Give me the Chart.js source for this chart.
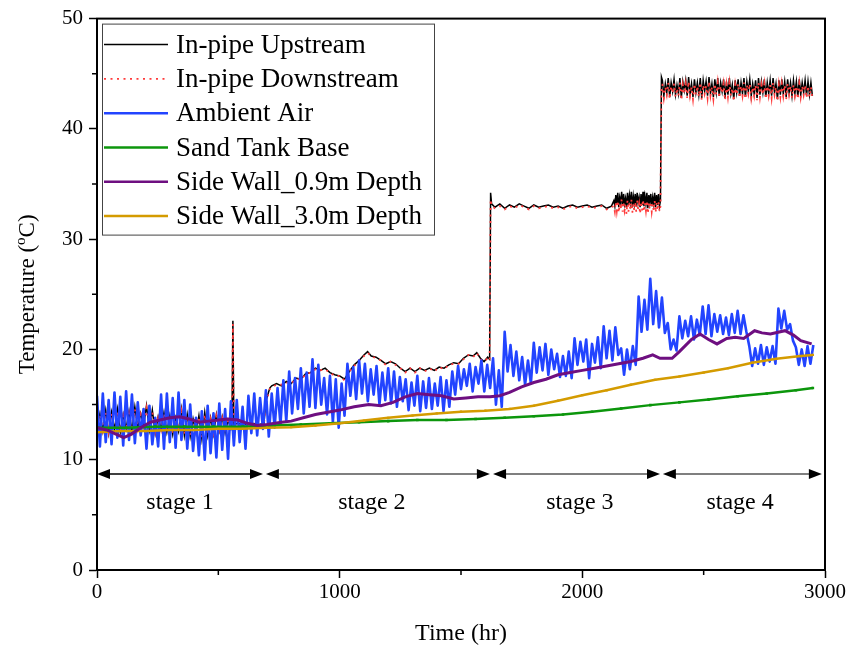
<!DOCTYPE html>
<html>
<head>
<meta charset="utf-8">
<script src="https://cdn.jsdelivr.net/npm/chart.js@4.4.1/dist/chart.umd.min.js"></script>
<style>
  html, body { margin: 0; padding: 0; background: #fff; }
  canvas { display: block; }
</style>
</head>
<body>
<canvas id="chart" width="848" height="652"></canvas>
<script>
// ── Data ────────────────────────────────────────────────────────────────────

// regular hour grid for evenly sampled records
const grid = (start, step, n) => Array.from({ length: n }, (_, i) => start + i * step);

// In-pipe temperatures, stage 1 (12 h samples from 0 h)
const upStage1 = [13.0,14.2,12.6,14.5,12.4,14.3,12.7,14.6,12.5,14.1,
    12.8,14.4,12.6,14.8,12.9,14.2,13.1,14.9,12.7,14.5,
    12.4,13.9,12.8,14.3,12.5,14.0,12.3,13.8,12.6,14.6,
    12.2,14.1,12.1,13.7,12.4,14.0,11.9,14.3,12.2,13.8,
    12.3,14.1,12.6,13.9,12.4,13.6,12.8];
const downStage1 = [12.9,14.0,12.7,14.3,12.5,14.2,12.6,14.4,12.6,14.0,
    12.7,14.2,12.7,14.6,12.8,14.1,13.0,14.7,12.8,14.3,
    12.5,13.8,12.7,14.2,12.6,13.9,12.4,13.7,12.7,14.4,
    12.3,14.0,12.2,13.6,12.5,13.9,12.0,14.1,12.3,13.7,
    12.4,14.0,12.7,13.8,12.5,13.5,12.9];

// spike and start of heating
const spikeHours = [556, 560, 564, 580, 610, 640, 670, 688, 696, 712];
const upSpike = [13.1, 22.6, 13.2, 13.3, 13.2, 13.3, 13.2, 13.3, 15.3, 16.5];
const downSpike = [13.0, 22.3, 13.1, 13.2, 13.1, 13.2, 13.1, 13.2, 15.1, 16.4];

// stage 2
const stage2Hours = [720,740,760,780,800,820,840,860,880,900,920,940,960,980,1000,1020,
    1040,1060,1080,1100,1115,1130,1150,1170,1190,1210,1230,1250,1270,1290,1310,1330,
    1350,1370,1390,1410,1430,1450,1470,1490,1510,1530,1550,1565,1580,1595,1610,1618];
const upStage2 = [16.7,16.9,16.7,17.1,16.9,17.4,17.3,17.8,17.9,18.3,
    18.1,18.3,17.9,17.7,17.6,17.3,18.0,18.6,19.0,19.5,
    19.8,19.4,19.3,19.0,18.7,18.9,18.7,18.3,18.0,18.3,
    18.0,18.3,18.1,18.3,18.1,18.4,18.3,18.6,18.8,18.7,
    19.2,19.5,19.4,19.7,19.2,18.9,19.3,19.1];
const downStage2 = [16.6,16.8,16.8,17.0,16.9,17.3,17.3,17.7,17.9,18.2,
    18.1,18.2,17.9,17.6,17.6,17.2,18.0,18.5,19.0,19.4,
    19.7,19.4,19.2,19.0,18.6,18.9,18.6,18.3,17.9,18.3,
    17.9,18.3,18.0,18.3,18.0,18.4,18.2,18.6,18.7,18.7,
    19.1,19.5,19.3,19.7,19.1,18.9,19.2,19.0];

// stage 3: jump, steady part (20 h samples from 1640 h), unsteady part (4 h samples from 2130 h)
const jump3Hours = [1622, 1626];
const upJump3 = [34.2, 33.2];
const downJump3 = [33.6, 33.0];
const upStage3 = [32.9,33.2,32.8,33.1,32.9,33.2,33.0,32.8,33.1,32.9,
    33.0,33.1,32.9,33.0,32.8,33.0,33.1,32.9,33.0,33.1,
    32.9,33.0,33.1,32.8,33.0];
const downStage3 = [32.8,33.0,32.7,33.0,32.8,33.1,32.9,32.7,33.0,32.8,
    32.9,33.0,32.8,32.9,32.7,32.9,33.0,32.8,32.9,33.0,
    32.8,32.9,33.0,32.7,32.9];
const upStage3b = [33.5,33.0,34.0,33.2,34.2,32.9,33.8,33.3,34.3,33.0,
    34.1,33.2,33.7,32.9,34.2,33.1,34.0,33.3,34.3,32.9,
    33.9,33.2,34.1,33.0,34.2,33.3,33.8,32.9,34.1,33.1,
    34.3,33.0,33.9,33.2,34.2,32.8,34.0,33.3,34.1,33.0,
    33.8,33.2,34.2,32.9,34.0,33.1,34.1,33.0,33.5];
const downStage3b = [33.0,32.5,33.4,32.6,33.5,32.4,33.2,32.7,33.6,32.5,
    33.4,32.6,33.1,32.3,33.5,32.5,33.3,32.7,33.6,32.4,
    33.2,32.6,33.4,32.5,33.5,32.7,33.2,32.3,33.4,32.6,
    33.6,32.5,33.3,32.6,33.5,32.3,33.3,32.7,33.4,32.5,
    33.2,32.6,33.5,32.4,33.3,32.6,33.4,32.5,33.0];

// stage 4: jump, then 6 h samples from 2330 h
const jump4Hours = [2326];
const upJump4 = [44.7];
const downJump4 = [44.0];
const upStage4 = [44.4,43.0,44.1,43.3,44.6,42.9,44.2,43.4,44.5,43.1,
    44.0,43.2,44.6,42.8,44.3,43.5,44.4,43.0,44.7,43.2,
    44.1,42.9,44.5,43.3,44.2,43.1,44.6,42.8,44.4,43.4,
    44.3,43.0,44.7,43.2,44.1,42.9,44.5,43.3,44.6,43.0,
    44.2,43.4,44.5,42.8,44.3,43.1,44.6,43.2,44.0,42.7,
    44.4,43.3,44.5,43.0,44.2,43.2,44.6,42.9,44.3,43.4,
    44.5,43.0,44.1,43.2,44.4,42.8,44.6,43.1,44.3,43.3,
    44.5,42.9,44.2,43.2,44.4,43.0,44.6,43.3,44.1,42.7,
    44.4,43.1,44.5,43.2,44.3,42.9,44.5,43.3,44.2,43.0,
    44.4,43.2,44.3,42.9,44.5,43.1,44.2,43.3,44.4,43.0,
    44.3,43.1,44.2,43.0];
const downStage4 = [44.0,42.8,43.8,43.1,44.2,42.7,43.9,43.2,44.1,42.9,
    43.7,43.0,44.2,42.6,44.0,43.2,44.1,42.8,44.3,43.0,
    43.8,42.7,44.1,43.1,43.9,42.9,44.2,42.6,44.0,43.2,
    43.9,42.8,44.3,43.0,43.8,42.7,44.1,43.1,44.2,42.8,
    43.9,43.2,44.1,42.6,44.0,42.9,44.2,43.0,43.7,42.5,
    44.0,43.1,44.1,42.8,43.9,43.0,44.2,42.7,44.0,43.2,
    44.1,42.8,43.8,43.0,44.0,42.6,44.2,42.9,44.0,43.1,
    44.1,42.7,43.9,43.0,44.0,42.8,44.2,43.1,43.8,42.5,
    44.0,42.9,44.1,43.0,44.0,42.7,44.1,43.1,43.9,42.8,
    44.0,43.0,43.9,42.7,44.1,42.9,43.9,43.1,44.0,42.8,
    43.9,42.9,43.8,42.8];

// Ambient air, day/night extremes every 12 h from 0 h
const airTemp = [
    15.8,11.2, 16.0,11.6, 15.4,11.4, 16.1,12.0, 15.7,11.3, 16.2,11.8, 15.9,11.5, 15.2,12.2, 14.6,11.0, 14.9,11.4,
    13.8,11.2, 15.9,11.0, 16.0,11.6, 15.6,11.1, 16.1,11.8, 15.4,11.0, 15.0,10.8, 13.8,10.4, 14.4,10.0, 14.9,10.6,
    14.2,10.2, 15.1,10.9, 14.6,10.1, 15.3,11.3, 15.4,11.6, 14.8,11.0, 15.8,12.4, 16.0,12.2, 15.6,12.8, 16.3,12.1,
    16.0,12.9, 16.5,13.2, 17.2,13.5, 18.0,14.2, 17.4,14.6, 18.3,14.2, 17.9,14.8, 19.1,14.7, 18.6,15.0, 17.4,14.1,
    17.6,13.4, 17.3,12.9, 16.9,14.0, 18.7,15.8, 18.4,15.5, 19.0,16.0, 18.7,15.3, 18.2,15.9, 18.5,15.0, 17.9,15.4,
    18.3,15.1, 18.0,14.8, 17.5,15.3, 17.3,14.5, 17.0,14.9, 17.6,14.4, 17.1,14.7, 17.4,14.6, 16.9,14.9, 17.5,14.4,
    17.2,14.8, 18.0,15.9, 18.5,16.4, 18.2,16.7, 18.7,16.2, 18.4,16.9, 19.0,16.2, 18.6,16.5, 19.2,15.0, 18.1,14.8,
    21.6,18.0, 20.4,17.6, 19.8,17.2, 19.3,16.8, 19.0,16.9, 20.6,17.9, 20.2,18.1, 20.5,17.7, 20.0,18.2, 19.6,17.5,
    19.4,17.6, 19.8,17.4, 21.0,18.6, 20.7,18.9, 20.9,17.4, 20.5,18.8, 21.1,18.3, 22.1,19.2, 21.7,19.0, 22.0,19.5,
    20.1,17.7, 20.0,18.2, 20.3,18.6, 24.8,21.6, 24.5,21.8, 26.4,22.3, 25.3,22.0, 24.7,21.5, 22.4,20.0, 20.9,19.9,
    23.0,21.0, 22.6,21.2, 23.0,20.9, 22.7,21.3, 23.9,21.4, 24.0,21.2, 23.2,21.6, 23.1,21.4, 22.9,21.3, 23.2,21.5,
    23.5,21.4, 23.1,21.6, 20.3,18.5, 20.1,18.7, 20.4,18.6, 20.2,18.9, 20.3,18.7, 23.7,21.9, 23.5,21.8, 22.3,20.8,
    20.2,18.6, 20.0,18.5, 20.3,18.7, 20.4];

// Sand tank base
const baseHours = [0,120,240,360,480,600,720,840,960,1080,1200,1320,1440,1560,1680,1800,
    1920,2040,2160,2280,2400,2520,2640,2760,2880,2950];
const baseTemp = [12.9,12.9,13.0,13.0,13.0,13.0,13.1,13.2,13.3,13.4,13.5,13.6,13.6,13.7,13.8,13.95,
    14.1,14.35,14.65,14.95,15.2,15.45,15.75,16.0,16.3,16.5];

// Side wall, 0.9 m depth
const wall09Hours = [0,40,80,110,140,180,220,260,300,340,380,420,460,500,540,580,620,660,700,760,
    800,850,900,950,1000,1060,1120,1170,1220,1270,1320,1370,1420,1470,1520,1570,1620,1660,1700,
    1750,1800,1850,1900,1950,2000,2050,2100,2150,2200,2250,2290,2320,2370,2400,2450,2485,2520,
    2555,2595,2630,2665,2710,2740,2775,2835,2870,2900,2945];
const wall09Temp = [12.9,12.7,12.3,12.0,12.3,12.9,13.4,13.6,13.8,13.9,13.7,13.4,13.5,13.6,13.7,13.6,13.3,13.1,13.2,13.4,
    13.5,13.8,14.1,14.3,14.5,14.8,15.0,14.9,15.2,15.7,16.0,15.9,15.8,15.5,15.6,15.7,15.7,15.8,16.1,
    16.6,17.0,17.3,17.7,17.9,18.1,18.3,18.5,18.7,18.9,19.2,19.5,19.2,19.2,19.8,20.9,21.4,20.9,
    20.5,21.0,21.1,21.0,21.7,21.5,21.4,21.7,21.3,20.8,20.5];

// Side wall, 3.0 m depth
const wall30Hours = [0,100,200,300,400,500,600,700,800,900,1000,1100,1200,1300,1400,1500,
    1600,1700,1800,1900,2000,2100,2200,2300,2400,2500,2600,2700,2800,2900,2950];
const wall30Temp = [12.5,12.6,12.6,12.7,12.7,12.8,12.8,12.9,12.95,13.1,13.3,13.55,13.8,14.0,14.2,14.35,
    14.45,14.6,14.9,15.35,15.85,16.3,16.8,17.25,17.55,17.9,18.3,18.8,19.15,19.4,19.5];

// Stage annotations (hours) and their levels (°C)
const stageNames = ["stage 1", "stage 2", "stage 3", "stage 4"];
const stageStart = [0, 696, 1632, 2332];
const stageEnd = [684, 1619, 2320, 2987];
const stageLabelHour = [342, 1133, 1990, 2650];
const arrowLevel = 8.7;
const stageLabelLevel = 6.1;

// Axis ticks
const xMajor = [0, 1000, 2000, 3000];
const xMinor = [500, 1500, 2500];
const yMinor = [5, 15, 25, 35, 45];

// ── Assemble series ──────────────────────────────────────────────────────────

const pipeHours = [
    ...grid(0, 12, upStage1.length), ...spikeHours, ...stage2Hours, ...jump3Hours,
    ...grid(1640, 20, upStage3.length), ...grid(2130, 4, upStage3b.length),
    ...jump4Hours, ...grid(2330, 6, upStage4.length),
];
const pipeUp = [...upStage1, ...upSpike, ...upStage2, ...upJump3, ...upStage3, ...upStage3b, ...upJump4, ...upStage4];
const pipeDown = [...downStage1, ...downSpike, ...downStage2, ...downJump3, ...downStage3, ...downStage3b, ...downJump4, ...downStage4];
const airHours = grid(0, 12, airTemp.length);

const pts = (hours, vals) => hours.map((h, i) => ({ x: h, y: vals[i] }));

const FONT = "'Liberation Serif', 'Times New Roman', serif";

// ── Decorations: frame, minor ticks, stage arrows, legend, y title ──────────

const decor = {
    id: "decor",
    afterDraw(chart) {
        const { ctx, chartArea: a } = chart;
        const xs = chart.scales.x;
        const ys = chart.scales.y;
        ctx.save();

        // frame
        ctx.strokeStyle = "#000";
        ctx.lineWidth = 2;
        ctx.strokeRect(a.left, a.top, a.right - a.left, a.bottom - a.top);

        // minor ticks
        ctx.lineWidth = 1.5;
        ctx.beginPath();
        for (const v of yMinor) {
            const py = ys.getPixelForValue(v);
            ctx.moveTo(a.left - 5, py);
            ctx.lineTo(a.left, py);
        }
        for (const v of xMinor) {
            const px = xs.getPixelForValue(v);
            ctx.moveTo(px, a.bottom);
            ctx.lineTo(px, a.bottom + 5);
        }
        ctx.stroke();

        // stage arrows
        const py = ys.getPixelForValue(arrowLevel);
        stageStart.forEach((s, i) => {
            const x0 = xs.getPixelForValue(s);
            const x1 = xs.getPixelForValue(stageEnd[i]);
            ctx.strokeStyle = i === 0 ? "#000" : "#555";
            ctx.lineWidth = 1.5;
            ctx.beginPath();
            ctx.moveTo(x0 + 8, py);
            ctx.lineTo(x1 - 8, py);
            ctx.stroke();
            ctx.fillStyle = "#000";
            ctx.beginPath();
            ctx.moveTo(x0, py);
            ctx.lineTo(x0 + 13, py - 5);
            ctx.lineTo(x0 + 13, py + 5);
            ctx.closePath();
            ctx.fill();
            ctx.beginPath();
            ctx.moveTo(x1, py);
            ctx.lineTo(x1 - 13, py - 5);
            ctx.lineTo(x1 - 13, py + 5);
            ctx.closePath();
            ctx.fill();
        });
        ctx.font = `24px ${FONT}`;
        ctx.textAlign = "center";
        ctx.textBaseline = "middle";
        ctx.fillStyle = "#000";
        stageNames.forEach((name, i) => {
            ctx.fillText(name, xs.getPixelForValue(stageLabelHour[i]), ys.getPixelForValue(stageLabelLevel));
        });

        // legend
        const lx = a.left + 5, ly = a.top + 5, lw = 332, lh = 211;
        ctx.fillStyle = "#fff";
        ctx.fillRect(lx, ly, lw, lh);
        ctx.strokeStyle = "#444";
        ctx.lineWidth = 1;
        ctx.strokeRect(lx + 0.5, ly + 0.5, lw, lh);
        ctx.font = `27px ${FONT}`;
        ctx.textAlign = "left";
        chart.data.datasets.forEach((ds, i) => {
            const cy = ly + 21 + i * 34.3;
            ctx.strokeStyle = ds.borderColor;
            ctx.lineWidth = Math.min(ds.borderWidth, 2.5);
            ctx.setLineDash(ds.borderDash || []);
            ctx.beginPath();
            ctx.moveTo(lx + 2, cy);
            ctx.lineTo(lx + 66, cy);
            ctx.stroke();
            ctx.setLineDash([]);
            ctx.fillStyle = "#000";
            ctx.fillText(ds.label, lx + 74, cy + 1);
        });

        // y axis title with superscript o
        ctx.translate(26, (a.top + a.bottom) / 2);
        ctx.rotate(-Math.PI / 2);
        const big = `23px ${FONT}`, small = `15px ${FONT}`;
        const p1 = "Temperature (", p2 = "o", p3 = "C)";
        ctx.font = big;
        const w1 = ctx.measureText(p1).width, w3 = ctx.measureText(p3).width;
        ctx.font = small;
        const w2 = ctx.measureText(p2).width;
        let tx = -(w1 + w2 + w3) / 2;
        ctx.textBaseline = "alphabetic";
        ctx.font = big;
        ctx.fillText(p1, tx, 8);
        tx += w1;
        ctx.font = small;
        ctx.fillText(p2, tx, -1);
        tx += w2;
        ctx.font = big;
        ctx.fillText(p3, tx, 8);

        ctx.restore();
    },
};

// ── Chart ────────────────────────────────────────────────────────────────────

new Chart(document.getElementById("chart"), {
    type: "line",
    data: {
        datasets: [
            {
                label: "In-pipe Upstream",
                data: pts(pipeHours, pipeUp),
                borderColor: "#000000",
                borderWidth: 1.5,
                order: 6,
            },
            {
                label: "In-pipe Downstream",
                data: pts(pipeHours, pipeDown),
                borderColor: "#ff3b3b",
                borderWidth: 1.8,
                borderDash: [2, 4.5],
                order: 5,
            },
            {
                label: "Ambient Air",
                data: pts(airHours, airTemp),
                borderColor: "#2244ff",
                borderWidth: 2.6,
                borderJoinStyle: "round",
                order: 4,
            },
            {
                label: "Sand Tank Base",
                data: pts(baseHours, baseTemp),
                borderColor: "#0c960c",
                borderWidth: 2.5,
                pointRadius: 1.8,
                pointStyle: "rect",
                pointBackgroundColor: "#0c960c",
                pointBorderWidth: 0,
                order: 3,
            },
            {
                label: "Side Wall_0.9m Depth",
                data: pts(wall09Hours, wall09Temp),
                borderColor: "#6e0f80",
                borderWidth: 3,
                order: 1,
            },
            {
                label: "Side Wall_3.0m Depth",
                data: pts(wall30Hours, wall30Temp),
                borderColor: "#d49b00",
                borderWidth: 2.5,
                pointRadius: 1.6,
                pointStyle: "rect",
                pointBackgroundColor: "#d49b00",
                pointBorderWidth: 0,
                order: 2,
            },
        ],
    },
    options: {
        responsive: false,
        animation: false,
        parsing: false,
        layout: { padding: { top: 16, right: 23, left: 0, bottom: 0 } },
        elements: {
            point: { radius: 0 },
            line: { tension: 0 },
        },
        plugins: {
            legend: { display: false },
            tooltip: { enabled: false },
        },
        scales: {
            x: {
                type: "linear",
                min: 0,
                max: 3000,
                afterFit(s) { s.height = 82; },
                afterBuildTicks(s) { s.ticks = xMajor.map((v) => ({ value: v })); },
                ticks: {
                    color: "#000",
                    font: { family: FONT, size: 21 },
                    padding: 2,
                    maxRotation: 0,
                    callback: (v) => String(v),
                },
                grid: {
                    drawOnChartArea: false,
                    tickLength: 8,
                    tickWidth: 1.5,
                    tickColor: "#000",
                },
                border: { display: true, color: "#000", width: 2 },
                title: {
                    display: true,
                    text: "Time (hr)",
                    color: "#000",
                    font: { family: FONT, size: 24 },
                    padding: { top: 0, bottom: 4 },
                },
            },
            y: {
                type: "linear",
                min: 0,
                max: 50,
                afterFit(s) { s.width = 97; },
                ticks: {
                    stepSize: 10,
                    color: "#000",
                    font: { family: FONT, size: 21 },
                    padding: 6,
                    callback: (v) => String(v),
                },
                grid: {
                    drawOnChartArea: false,
                    tickLength: 8,
                    tickWidth: 1.5,
                    tickColor: "#000",
                },
                border: { display: true, color: "#000", width: 2 },
            },
        },
    },
    plugins: [decor],
});
</script>
</body>
</html>
